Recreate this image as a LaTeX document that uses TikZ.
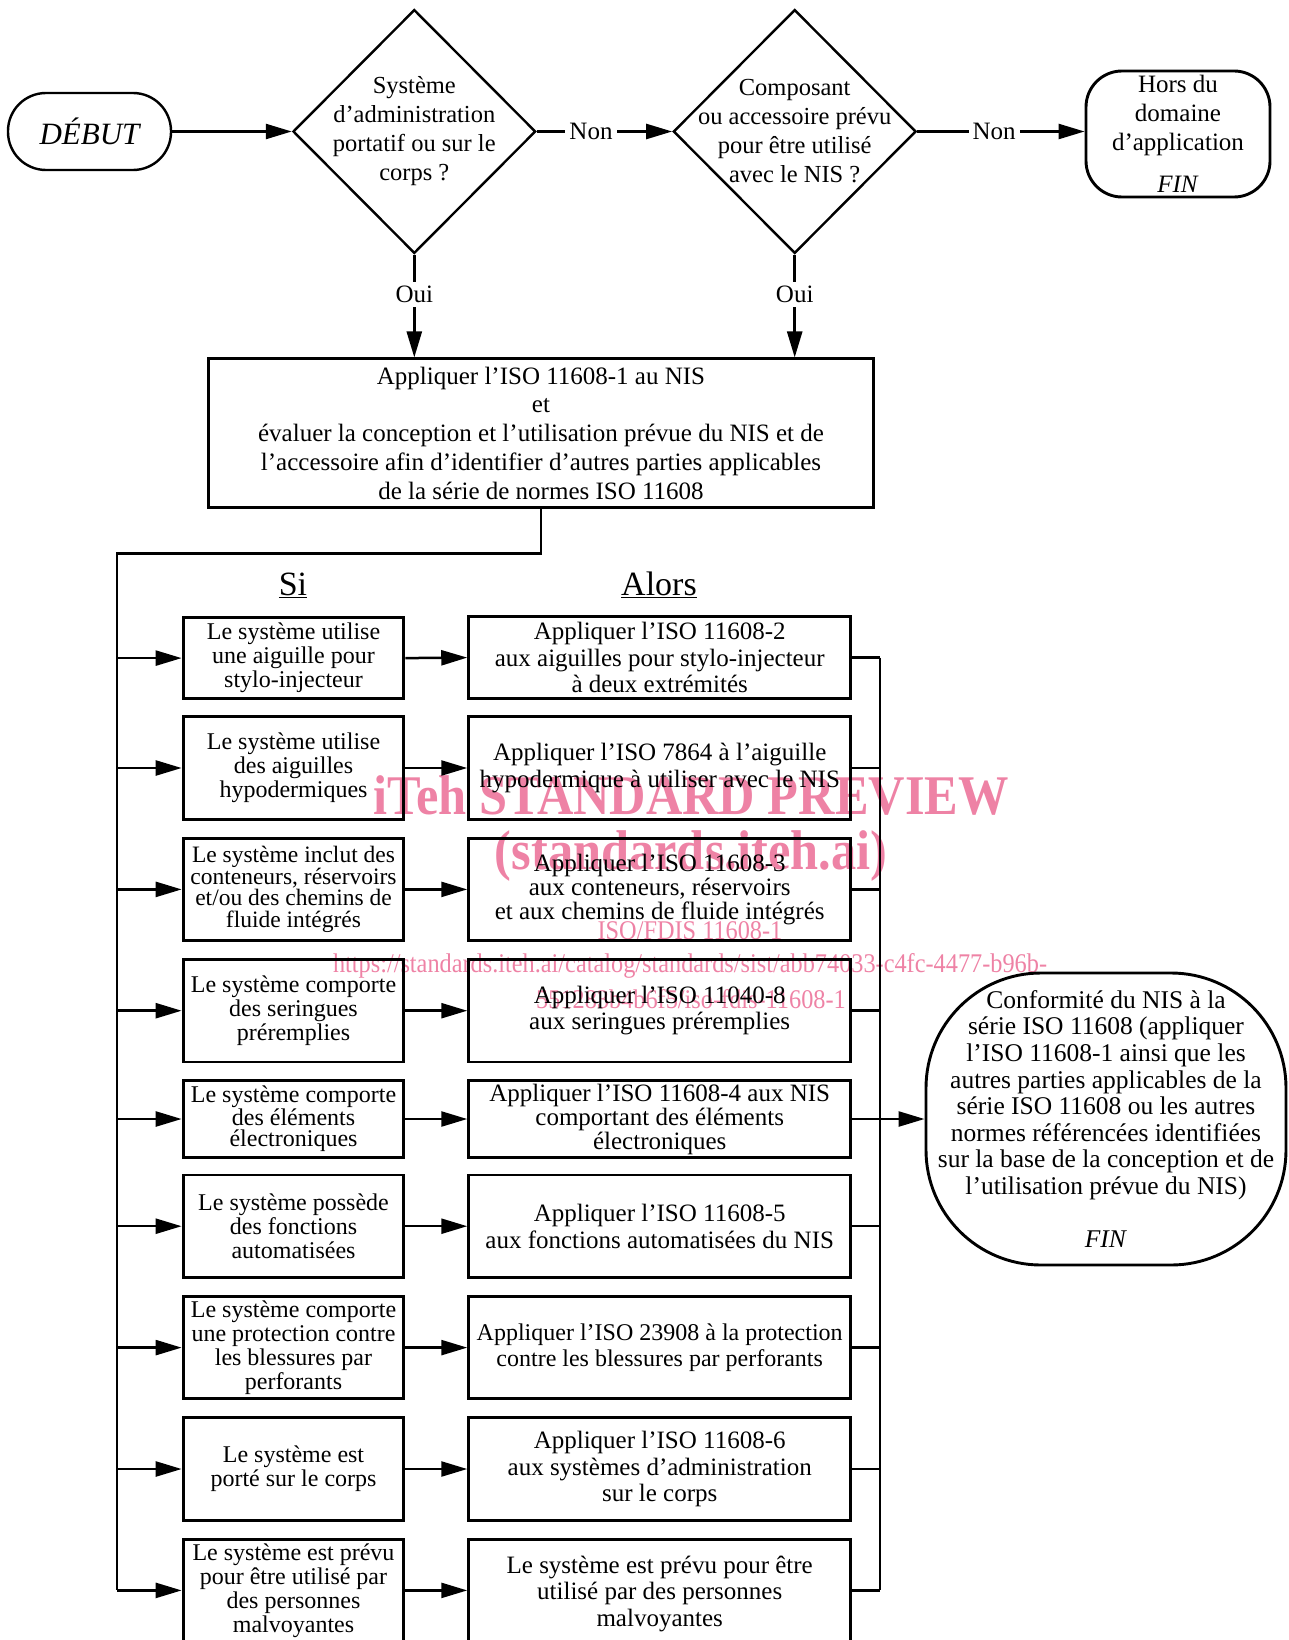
\documentclass[tikz,border=0pt]{standalone}
\usepackage{fontspec}
\setmainfont{Liberation Serif}
\usepackage{graphicx}
\usetikzlibrary{arrows.meta,shapes.geometric}
\definecolor{wm}{RGB}{238,130,165}
\begin{document}
\begin{tikzpicture}[x=1pt,y=-1pt,
  box/.style={draw, line width=2.9pt, inner sep=0pt, align=center},
  lbox/.style={box, minimum width=220.8pt, font=\fontsize{24}{24}\selectfont},
  rbox/.style={box, minimum width=382pt, font=\fontsize{25}{26.5}\selectfont},
  dia/.style={draw, diamond, line width=2.4pt, inner sep=0pt, minimum width=242.7pt, minimum height=243.8pt},
  dtext/.style={align=center, inner sep=0pt, font=\fontsize{24.5}{29}\selectfont},
  conn/.style={line width=2.5pt},
  arr/.style={conn, -{Triangle[length=26pt,width=15pt]}},
  lbl/.style={fill=white, inner sep=4pt, font=\fontsize{25}{26}\selectfont},
  head/.style={inner sep=0pt, font=\fontsize{34}{34}\selectfont},
  wmb/.style={text=wm, inner sep=0pt, font=\fontsize{56}{56}\selectfont\bfseries},
  wmr/.style={text=wm, inner sep=0pt, font=\fontsize{27}{27}\selectfont},
]
\useasboundingbox (0,0) rectangle (1289,1640);

% watermark (behind)
\node[wmb] (w1) at (691,795) {\scalebox{0.9}[1]{iTeh STANDARD PREVIEW}};
\node[wmb] (w2) at (691,856) {\scalebox{0.9}[1]{(standards.iteh.ai)}};
\node[wmr] (w3) at (690,932) {\scalebox{0.9}[1]{\underline{ISO/FDIS 11608-1}}};
\node[wmr] (w4) at (690,966) {\scalebox{0.9}[1]{https://standards.iteh.ai/catalog/standards/sist/abb74033-c4fc-4477-b96b-}};
\node[wmr] (w5) at (691,999) {\scalebox{0.9}[1]{551283b4b6f5/iso-fdis-11608-1}};

% top part
\node[draw, line width=2.4pt, rounded corners=38pt, minimum width=163pt, minimum height=77pt, inner sep=0pt, font=\fontsize{31}{31}\selectfont\itshape] (deb) at (89.5,131.5) {DÉBUT};
\node[dia] (d1) at (414.3,131.5) {};
\node[dtext] (t1) at (d1) {Système\\d’administration\\portatif ou sur le\\corps ?};
\node[dia] (d2) at (794.7,131.5) {};
\node[dtext] (t2) at (d2) {Composant\\ou accessoire prévu\\pour être utilisé\\avec le NIS ?};
\node[box, rounded corners=36pt, minimum width=184pt, minimum height=126pt, font=\fontsize{25}{29}\selectfont] (hors) at (1178,134) {Hors du\\domaine\\d’application\\[13pt]\textit{FIN}};

\node[box, minimum width=665.5pt, minimum height=148.6pt, font=\fontsize{25}{28.8}\selectfont] (main) at (541,433.2) {Appliquer l’ISO 11608-1 au NIS\\et\\évaluer la conception et l’utilisation prévue du NIS et de\\l’accessoire afin d’identifier d’autres parties applicables\\de la série de normes ISO 11608};

\draw[arr] (deb.east) -- (d1.west);
\draw[arr] (d1.east) -- node[lbl, pos=0.40] {Non} (d2.west);
\draw[arr] (d2.east) -- node[lbl, pos=0.46] {Non} (d2.east -| hors.west);
\draw[arr] (d1.south) -- node[lbl, pos=0.39] {Oui} (d1.south |- main.north);
\draw[arr] (d2.south) -- node[lbl, pos=0.39] {Oui} (d2.south |- main.north);

% headings
\node[head] (si) at (293,585) {\underline{Si}};
\node[head] (alors) at (659,585) {\underline{Alors}};

% rows
\node[lbox, minimum height=81.6pt] (L1) at (293.5,658.1) {Le système utilise\\une aiguille pour\\stylo-injecteur};
\node[rbox, minimum height=82.6pt] (R1) at (659.7,657.6) {Appliquer l’ISO 11608-2\\aux aiguilles pour stylo-injecteur\\à deux extrémités};

\node[lbox, minimum height=102.6pt] (L2) at (293.5,768) {Le système utilise\\des aiguilles\\hypodermiques};
\node[rbox, minimum height=102.6pt] (R2) at (659.7,768) {Appliquer l’ISO 7864 à l’aiguille\\hypodermique à utiliser avec le NIS};

\node[lbox, minimum height=102.5pt, font=\fontsize{23.5}{21.7}\selectfont] (L3) at (293.5,889.4) {Le système inclut des\\conteneurs, réservoirs\\et/ou des chemins de\\fluide intégrés};
\node[rbox, minimum height=102.5pt, font=\fontsize{25}{24}\selectfont] (R3) at (659.7,889.4) {Appliquer l’ISO 11608-3\\aux conteneurs, réservoirs\\et aux chemins de fluide intégrés};

\node[lbox, minimum height=102.5pt] (L4) at (293.5,1010.7) {Le système comporte\\des seringues\\préremplies};
\node[rbox, minimum height=102.5pt] (R4) at (659.7,1010.7) {Appliquer l’ISO 11040-8\\aux seringues préremplies};

\node[lbox, minimum height=76.4pt, font=\fontsize{24}{21.4}\selectfont] (L5) at (293.5,1119) {Le système comporte\\des éléments\\électroniques};
\node[rbox, minimum height=76.4pt, font=\fontsize{25}{24}\selectfont] (R5) at (659.7,1119) {Appliquer l’ISO 11608-4 aux NIS\\comportant des éléments\\électroniques};

\node[lbox, minimum height=102.5pt] (L6) at (293.5,1226.2) {Le système possède\\des fonctions\\automatisées};
\node[rbox, minimum height=102.5pt] (R6) at (659.7,1226.2) {Appliquer l’ISO 11608-5\\aux fonctions automatisées du NIS};

\node[lbox, minimum height=102.5pt] (L7) at (293.5,1347.6) {Le système comporte\\une protection contre\\les blessures par\\perforants};
\node[rbox, minimum height=102.5pt, font=\fontsize{24}{26.5}\selectfont] (R7) at (659.7,1347.6) {Appliquer l’ISO 23908 à la protection\\contre les blessures par perforants};

\node[lbox, minimum height=102.6pt] (L8) at (293.5,1469) {Le système est\\porté sur le corps};
\node[rbox, minimum height=102.6pt] (R8) at (659.7,1469) {Appliquer l’ISO 11608-6\\aux systèmes d’administration\\sur le corps};

\node[lbox, minimum height=102.5pt] (L9) at (293.5,1590.4) {Le système est prévu\\pour être utilisé par\\des personnes\\malvoyantes};
\node[rbox, minimum height=102.5pt] (R9) at (659.7,1590.4) {\\[-2pt]Le système est prévu pour être\\utilisé par des personnes\\malvoyantes};

% final box
\node[box, rounded corners=115pt, minimum width=360pt, minimum height=292pt, font=\fontsize{25.5}{26.6}\selectfont] (fin) at (1106,1119) {Conformité du NIS à la\\série ISO 11608 (appliquer\\l’ISO 11608-1 ainsi que les\\autres parties applicables de la\\série ISO 11608 ou les autres\\normes référencées identifiées\\sur la base de la conception et de\\l’utilisation prévue du NIS)\\[26.6pt]\textit{FIN}};

% left trunk
\coordinate (tl) at (117,553.5);
\draw[conn] (main.south) |- (tl) -- (tl |- L9.west);
\foreach \i in {1,...,9} {
  \draw[arr] (tl |- L\i.west) -- (L\i.west);
  \draw[arr] (L\i.east) -- (R\i.west);
}
% right trunk
\coordinate (tr) at (880,658);
\foreach \i in {1,...,9} {
  \draw[conn] (R\i.east) -- (tr |- R\i.east);
}
\draw[conn] (tr |- R1.east) -- (tr |- R9.east);
\draw[arr] (tr |- fin.west) -- (fin.west);
\end{tikzpicture}
\end{document}
